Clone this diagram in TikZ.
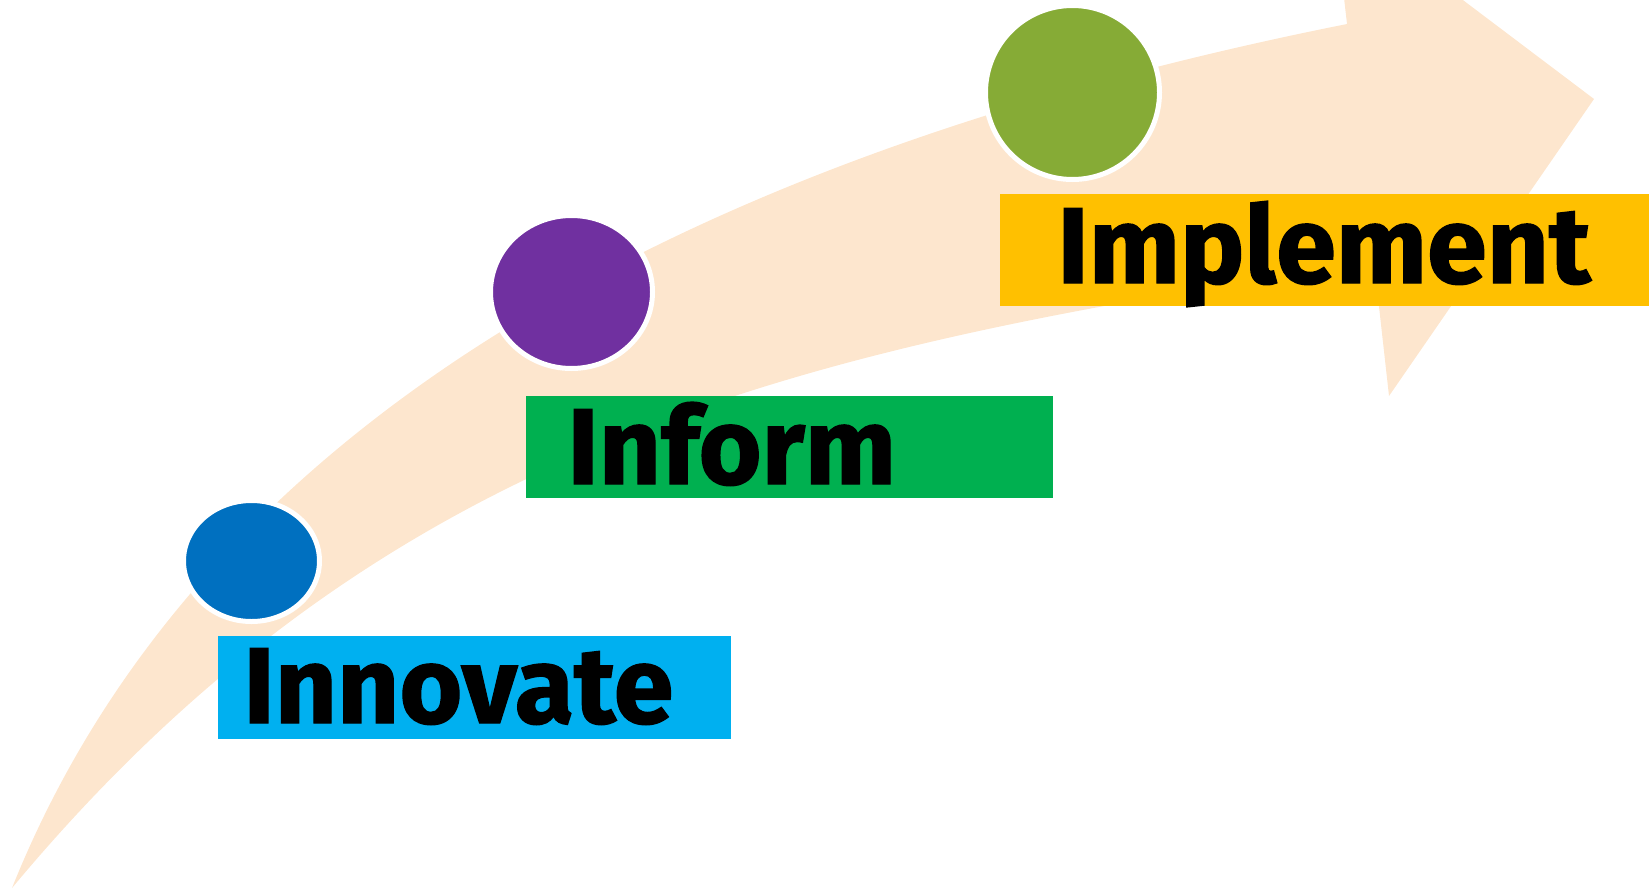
\documentclass[tikz,border=0pt]{standalone}
\usepackage{fontspec}
\usetikzlibrary{shapes.geometric, positioning}
\newfontfamily\stepfont{Fira Sans}[BoldFeatures={FakeBold=1.2}]
\definecolor{arrowpeach}{HTML}{FDE6CE}
\definecolor{innovateblue}{HTML}{0070C0}
\definecolor{informpurple}{HTML}{7030A0}
\definecolor{implementgreen}{HTML}{86AB36}
\definecolor{innovatecyan}{HTML}{00B0F0}
\definecolor{informgreen}{HTML}{00B050}
\definecolor{implementgold}{HTML}{FFC000}

\begin{document}
\begin{tikzpicture}[x=1pt, y=-1pt]
    \clip (0,0) rectangle (1649,894);
    % the curved arrow behind the stages
    \fill[arrowpeach] (12,888) .. controls (185,456) and (630,167) .. (1347,24)
        -- (1333,-98) -- (1594,99) -- (1389,396) -- (1374,262)
        .. controls (814,346) and (392,432) .. (12,888) -- cycle;
    \begin{scope}[every node/.style = {ellipse, draw=white, line width=5pt, inner sep=0pt, outer sep=0pt}]
        \foreach \n/\cx/\cy/\w/\h/\c in {innovate/251.5/561/136/121/innovateblue,
                                         inform/571.5/292/162/153/informpurple,
                                         implement/1072.5/92.5/174/174/implementgreen}{
            \node[fill=\c, minimum width=\w pt, minimum height=\h pt] (D\n) at (\cx,\cy) {};
        }
    \end{scope}
    \begin{scope}[every node/.style = {anchor=north west, inner sep=0pt, outer sep=0pt}]
        \foreach \n/\bx/\by/\w/\h/\c in {innovate/218/636/513/103/innovatecyan,
                                         inform/526/396/527/102/informgreen,
                                         implement/1000/194/649/112/implementgold}{
            \node[fill=\c, minimum width=\w pt, minimum height=\h pt] (B\n) at (\bx,\by) {};
        }
    \end{scope}
    \begin{scope}[every node/.style = {anchor=base west, inner sep=0pt, font=\stepfont\bfseries\fontsize{108}{110}\selectfont}]
        \node (Linnovate) at (243,723) {Innovate};
        \node (Linform) at (567,484) {Inform};
        \node (Limplement) at (1057,283) {Implement};
    \end{scope}
\end{tikzpicture}
\end{document}
